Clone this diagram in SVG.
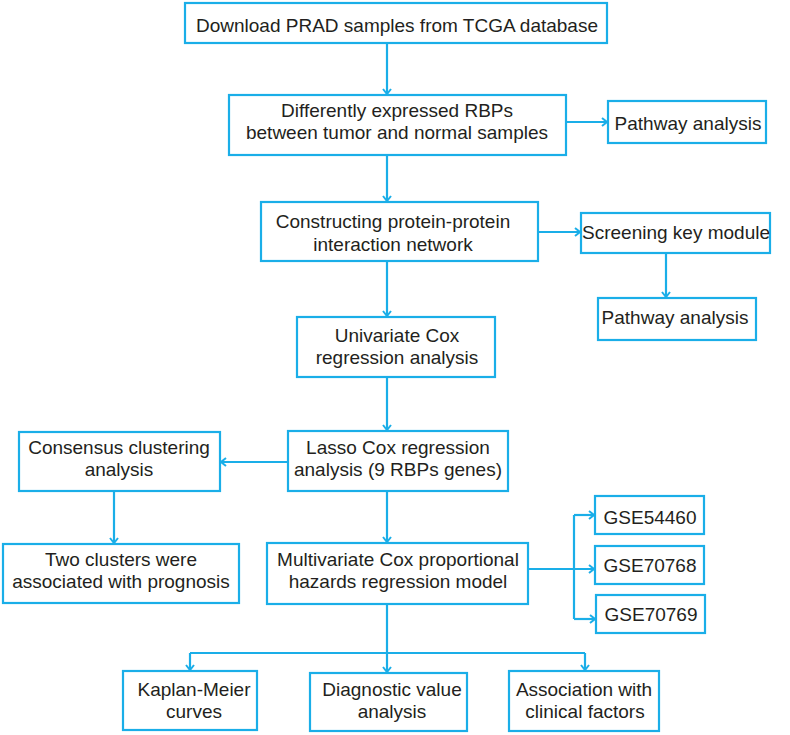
<svg xmlns="http://www.w3.org/2000/svg" width="790" height="735" viewBox="0 0 790 735">
<style>
.box{fill:#ffffff;stroke:#1AAEE8;stroke-width:2.2}
.t{font-family:"Liberation Sans",Arial,sans-serif;font-size:19px;fill:#231F20;text-anchor:middle}
.c{fill:none;stroke:#1AAEE8;stroke-width:2.2;marker-end:url(#ah)}
.l{fill:none;stroke:#1AAEE8;stroke-width:2.2}
</style>
<defs>
<marker id="ah" markerUnits="userSpaceOnUse" viewBox="-7 -5 8 10" refX="0" refY="0" markerWidth="8" markerHeight="10" orient="auto">
<path d="M-5,-4 L0,0 L-5,4" fill="none" stroke="#1AAEE8" stroke-width="2"/>
</marker>
</defs>
<rect width="790" height="735" fill="#ffffff"/>
<g id="connectors">
<path class="c" d="M387,43 V94"/>
<path class="c" d="M566,122 H607"/>
<path class="c" d="M387,155 V201"/>
<path class="c" d="M538,232 H580"/>
<path class="c" d="M666,253 V297"/>
<path class="c" d="M387,261 V316"/>
<path class="c" d="M387,377 V430"/>
<path class="c" d="M288,462 H221"/>
<path class="c" d="M114,491 V543"/>
<path class="c" d="M387,491 V542"/>
<path class="c" d="M528,569 H594"/>
<path class="l" d="M574,515 V619"/>
<path class="c" d="M574,515 H594"/>
<path class="c" d="M574,619 H595"/>
<path class="c" d="M387,604 V672"/>
<path class="l" d="M190,653 H585"/>
<path class="c" d="M190,653 V670"/>
<path class="c" d="M585,653 V670"/>
</g>
<g id="n1"><rect class="box" x="185" y="3" width="422" height="40"/><text class="t" x="397" y="32">Download PRAD samples from TCGA database</text></g>
<g id="n2"><rect class="box" x="229" y="95" width="337" height="60"/><text class="t" x="397" y="117">Differently expressed RBPs</text><text class="t" x="397" y="139">between tumor and normal samples</text></g>
<g id="n3"><rect class="box" x="608" y="101" width="158" height="42"/><text class="t" x="688" y="130">Pathway analysis</text></g>
<g id="n4"><rect class="box" x="261" y="202" width="277" height="59"/><text class="t" x="393" y="228">Constructing protein-protein</text><text class="t" x="393" y="251">interaction network</text></g>
<g id="n5"><rect class="box" x="581" y="213" width="189" height="40"/><text class="t" x="676" y="239">Screening key module</text></g>
<g id="n6"><rect class="box" x="598" y="298" width="158" height="42"/><text class="t" x="675" y="324">Pathway analysis</text></g>
<g id="n7"><rect class="box" x="297" y="317" width="198" height="60"/><text class="t" x="397" y="342">Univariate Cox</text><text class="t" x="397" y="364">regression analysis</text></g>
<g id="n8"><rect class="box" x="288" y="431" width="220" height="60"/><text class="t" x="398" y="454">Lasso Cox regression</text><text class="t" x="398" y="476">analysis (9 RBPs genes)</text></g>
<g id="n9"><rect class="box" x="19" y="432" width="201" height="59"/><text class="t" x="119" y="454">Consensus clustering</text><text class="t" x="119" y="476">analysis</text></g>
<g id="n10"><rect class="box" x="3" y="544" width="236" height="59"/><text class="t" x="121" y="566">Two clusters were</text><text class="t" x="121" y="588">associated with prognosis</text></g>
<g id="n11"><rect class="box" x="267" y="543" width="261" height="61"/><text class="t" x="398" y="566">Multivariate Cox proportional</text><text class="t" x="398" y="588">hazards regression model</text></g>
<g id="n12"><rect class="box" x="595" y="496" width="109" height="38"/><text class="t" x="650" y="524">GSE54460</text></g>
<g id="n13"><rect class="box" x="595" y="546" width="109" height="38"/><text class="t" x="650" y="572">GSE70768</text></g>
<g id="n14"><rect class="box" x="596" y="595" width="109" height="38"/><text class="t" x="651" y="621">GSE70769</text></g>
<g id="n15"><rect class="box" x="123" y="671" width="134" height="59"/><text class="t" x="194" y="696">Kaplan-Meier</text><text class="t" x="194" y="718">curves</text></g>
<g id="n16"><rect class="box" x="310" y="673" width="157" height="58"/><text class="t" x="392" y="696">Diagnostic value</text><text class="t" x="392" y="718">analysis</text></g>
<g id="n17"><rect class="box" x="509" y="671" width="150" height="60"/><text class="t" x="584" y="696">Association with</text><text class="t" x="585" y="718">clinical factors</text></g>
</svg>
